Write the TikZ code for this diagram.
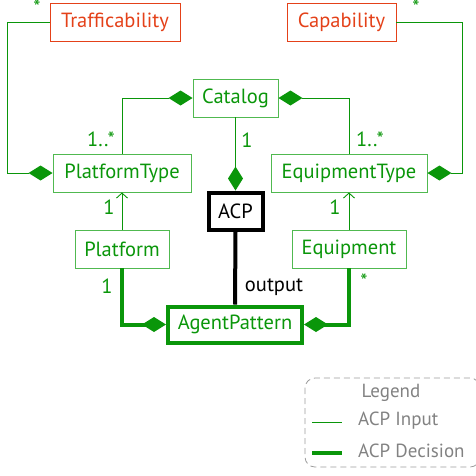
\documentclass[tikz,border=0pt]{standalone}
\usepackage{fontspec}
\setmainfont{PT Sans}
\usetikzlibrary{arrows.meta}
\definecolor{gr}{RGB}{10,150,10}
\definecolor{grb}{RGB}{80,185,80}
\definecolor{rd}{RGB}{228,65,25}
\definecolor{lg}{RGB}{130,130,130}
\begin{document}
\begin{tikzpicture}[x=1pt,y=-1pt,font=\fontsize{20.5}{24}\selectfont,
  box/.style={draw=grb,line width=0.9pt,text=gr,minimum height=38pt,inner xsep=0pt,inner ysep=0pt},
  rbox/.style={draw=rd,line width=0.9pt,text=rd,minimum height=38pt,inner xsep=0pt,inner ysep=0pt},
  conn/.style={draw=gr,line width=0.9pt},
  tconn/.style={draw=gr,line width=4pt},
  dia/.tip={Diamond[length=24pt,width=15pt,fill=gr,color=gr,line width=0pt]},
  arr/.tip={Straight Barb[length=5pt,width=11pt,color=gr,line width=0.9pt]},
  lab/.style={text=gr,inner sep=0pt},
  leg/.style={text=lg,anchor=west,inner sep=0pt,font=\fontsize{19}{22}\selectfont}]
\useasboundingbox (0,0) rectangle (476,475);
% nodes
\node[rbox,minimum width=130pt] (traf) at (115,22) {Trafficability};
\node[rbox,minimum width=109pt] (cap) at (341.5,22) {Capability};
\node[box,minimum width=85pt] (cat) at (235.5,98) {Catalog};
\node[box,minimum width=138pt] (pt) at (122,173) {PlatformType};
\node[box,minimum width=156pt] (et) at (349,173) {EquipmentType};
\node[draw=black,line width=4pt,minimum width=54pt,minimum height=37pt,inner sep=0pt] (acp) at (235.5,211) {ACP};
\node[box,minimum width=94pt] (pl) at (122,249) {Platform};
\node[box,minimum width=114pt] (eq) at (349,249) {Equipment};
\node[draw=gr,line width=4pt,text=gr,minimum width=134pt,minimum height=36pt,inner sep=0pt] (ap) at (235,324.5) {AgentPattern};
% connectors
\draw[conn,-dia] (traf.west) -- ++(-42,0) |- (pt.west);
\draw[conn,-dia] (cap.east) -- ++(66,0) |- (et.east);
\draw[conn,dia-] (cat.west) -| (pt.north);
\draw[conn,dia-] (cat.east) -| (et.north);
\draw[conn,-dia] (cat.south) -- (acp.north);
\draw[conn,-arr] (pl.north) -- (pt.south);
\draw[conn,-arr] (eq.north) -- (et.south);
\draw[tconn,-dia] (pl.south) |- (ap.west);
\draw[tconn,-dia] (eq.south) |- (ap.east);
\draw[line width=4pt] (acp.south) -- (ap.north);
% labels
\node[lab] (l1) at (37,7) {*};
\node[lab] (l2) at (416,7) {*};
\node[lab] (l3) at (101,139) {1..*};
\node[lab] (l4) at (247,140) {1};
\node[lab] (l5) at (370,139) {1..*};
\node[lab] (l6) at (109,207) {1};
\node[lab] (l7) at (335,207) {1};
\node[lab] (l8) at (107,286) {1};
\node[lab] (l9) at (364,281) {*};
\node[inner sep=0pt] (out) at (274,287) {output};
% legend
\draw[lg!80,dashed,dash pattern=on 6pt off 4pt,line width=0.8pt,rounded corners=10pt] (305,378) rectangle (480,467);
\node[leg,anchor=center] (lt) at (391,393) {Legend};
\coordinate (a1) at (312,422);
\coordinate (a2) at (342,422);
\coordinate (b1) at (312,453);
\coordinate (b2) at (342,453);
\draw[conn] (a1) -- (a2);
\draw[tconn] (b1) -- (b2);
\node[leg] (li) at (358,421) {ACP Input};
\node[leg] (ld) at (358,451) {ACP Decision};
\end{tikzpicture}
\end{document}
